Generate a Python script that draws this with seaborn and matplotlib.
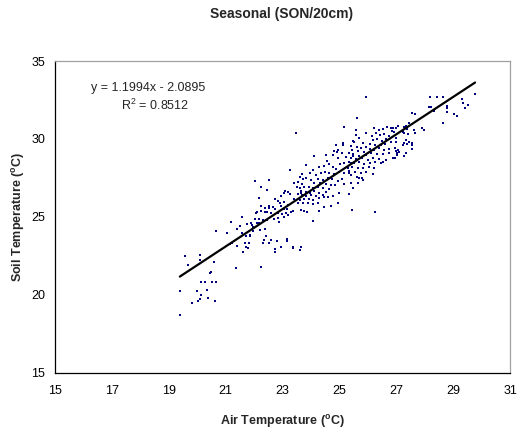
import matplotlib
matplotlib.use("Agg")
import matplotlib.pyplot as plt
import seaborn as sns
import numpy as np
import pandas as pd

# ---- data ----
air_temp = [
    19.39, 19.41, 19.83, 19.99, 20.04, 20.09, 20.13, 20.12, 20.34, 20.38, 20.61, 20.52,
    19.56, 19.67, 20.11, 20.09, 20.60, 20.65, 20.50, 20.44, 20.26, 20.65,
    21.05, 21.20, 21.36, 21.21, 21.14, 21.40, 21.50, 21.57, 21.40, 21.61, 21.68, 21.75,
    21.78, 21.82, 21.85, 21.91, 21.96, 22.02, 22.08, 22.11, 22.16, 22.22, 22.26, 22.32,
    22.25, 22.25, 22.37, 22.43, 22.46, 22.52, 22.26, 22.47, 22.05, 21.57,
    23.25, 23.68, 23.60, 23.42, 23.54, 23.67, 23.52, 23.62, 22.51, 23.10, 23.19, 23.05,
    23.28, 23.56, 23.66, 22.93, 22.74, 22.84, 22.90, 23.07, 23.54, 23.21,
    22.37, 22.54, 22.66, 22.95, 22.75, 23.04, 23.16, 22.11, 22.46, 22.60, 22.84, 22.98,
    23.13, 23.37, 22.19, 22.32, 22.70, 22.88, 23.07, 23.19, 21.88, 21.96, 22.19, 22.39,
    21.84, 21.72, 21.70, 22.34, 22.54, 22.60, 22.81, 23.16, 22.72, 22.72, 22.93, 23.37,
    23.60, 23.66, 22.84, 23.42, 23.30,
    25.12, 25.14, 25.47, 25.35, 25.47, 25.09, 24.91, 24.80, 24.77, 24.12, 23.83, 24.55,
    24.94, 25.23, 24.65, 25.02, 25.18, 25.41, 24.30, 24.47, 24.77, 24.88, 25.29, 24.06,
    23.95, 24.18, 24.36, 24.51, 24.65, 24.82, 25.00, 25.18, 25.35, 23.71, 23.83, 24.00,
    24.24, 24.42, 24.59, 24.74, 24.94, 25.09, 24.12, 24.32, 24.53, 24.71, 24.86, 25.18,
    25.41, 23.74, 23.92, 24.06, 24.24, 24.42, 24.65, 23.66, 23.81, 23.95, 24.12, 24.27,
    24.53, 25.00, 23.69, 23.83, 24.00, 24.18, 24.42, 23.77, 23.92, 24.09, 24.30, 24.77,
    23.62, 23.71, 23.89, 24.06, 24.24, 24.47, 24.59, 25.33, 23.66, 23.74, 23.85, 24.47,
    24.30, 24.06, 25.45, 24.71, 24.94,
    25.61, 25.59, 25.94, 26.23, 26.38, 26.52, 26.66, 26.81, 26.90, 26.85, 26.29, 26.43,
    26.58, 26.73, 26.15, 25.53, 25.70, 25.82, 26.19, 26.34, 26.50, 26.64, 26.08, 26.26,
    26.46, 26.61, 26.81, 26.99, 25.41, 25.61, 25.76, 25.94, 25.45, 25.64, 25.88, 26.08,
    26.23, 26.40, 26.58, 26.75, 26.96, 26.99, 27.08, 25.49, 25.70, 25.94, 26.11, 26.31,
    26.52, 26.73, 27.04, 25.41, 25.59, 25.80, 25.99, 26.17, 26.38, 26.64, 26.87, 25.35,
    25.53, 25.70, 25.88, 26.08, 26.26, 26.46, 25.45, 25.64, 25.84, 26.03, 26.23, 26.54,
    25.35, 25.56, 25.76, 25.94, 25.41, 25.61, 25.80, 25.70, 26.19, 25.82, 25.64, 25.49,
    26.26, 26.99,
    28.19, 28.43, 28.66, 28.16, 28.22, 28.31, 27.57, 27.66, 28.63, 27.92, 27.98, 27.46,
    27.34, 27.26, 27.07, 27.37, 27.22, 27.63, 27.66, 27.40, 27.28, 26.93, 26.99, 27.34,
    27.46, 27.28, 27.37, 27.54, 27.57, 27.22, 27.07, 27.04, 27.54, 27.34, 27.26, 26.95,
    29.30, 29.77, 28.77, 28.80, 29.35, 29.52, 29.42, 28.77, 29.04, 29.15,
    25.94, 23.48, 25.18, 23.36, 23.16, 24.53, 24.94, 24.88, 25.59,
]
soil_temp = [
    20.22, 18.70, 19.49, 20.22, 19.62, 19.73, 20.00, 20.80, 20.31, 19.77, 19.62, 20.80,
    22.49, 21.89, 22.55, 22.25, 22.12, 24.09, 21.48, 21.40, 20.82, 20.82,
    23.94, 24.65, 21.74, 23.34, 23.24, 24.24, 24.43, 24.97, 23.13, 22.76, 23.32, 24.54,
    22.98, 23.30, 23.77, 24.46, 24.11, 24.88, 25.27, 24.59, 26.19, 24.16, 21.76, 23.30,
    25.38, 25.70, 25.33, 23.79, 24.80, 25.55, 26.93, 26.72, 27.30, 23.94,
    28.01, 27.73, 27.54, 27.15, 27.26, 27.09, 26.93, 26.85, 27.36, 26.68, 26.61, 26.51,
    26.47, 26.47, 26.51, 26.34, 26.13, 26.02, 25.87, 25.95, 25.87, 25.78,
    25.59, 25.70, 25.65, 25.70, 25.48, 25.50, 25.48, 25.31, 25.33, 25.27, 25.27, 25.18,
    25.23, 25.39, 24.84, 24.80, 24.88, 24.69, 25.01, 25.12, 24.59, 24.33, 24.59, 24.20,
    23.84, 23.77, 23.05, 23.51, 23.34, 23.51, 23.47, 23.47, 22.96, 22.76, 23.05, 22.98,
    22.87, 23.05, 24.91, 26.16, 25.33,
    29.76, 29.59, 29.89, 29.08, 28.90, 29.12, 29.18, 29.23, 28.97, 28.90, 28.33, 28.60,
    28.76, 28.82, 28.39, 28.39, 28.47, 28.44, 28.22, 28.26, 28.18, 28.05, 28.12, 28.01,
    27.79, 27.69, 27.79, 27.88, 27.83, 27.75, 27.90, 27.83, 27.79, 27.41, 27.47, 27.36,
    27.41, 27.36, 27.47, 27.41, 27.32, 27.41, 27.15, 27.19, 27.11, 27.04, 27.04, 27.11,
    27.15, 26.93, 26.90, 26.83, 26.93, 26.83, 26.77, 26.68, 26.61, 26.55, 26.68, 26.55,
    26.61, 26.51, 26.40, 26.34, 26.40, 26.34, 26.40, 26.13, 26.13, 26.08, 26.19, 26.34,
    26.08, 25.87, 25.87, 25.82, 25.91, 26.25, 26.29, 26.47, 25.44, 25.39, 25.33, 25.65,
    25.39, 24.75, 25.44, 25.70, 25.91,
    31.32, 30.57, 30.36, 30.68, 30.57, 30.64, 30.78, 30.72, 30.72, 30.51, 30.36, 30.25,
    30.30, 30.21, 30.21, 29.82, 30.04, 29.72, 29.93, 30.00, 29.87, 30.00, 29.66, 29.61,
    29.61, 29.66, 29.78, 29.82, 29.57, 29.50, 29.44, 29.50, 29.29, 29.23, 29.18, 29.35,
    29.29, 29.40, 29.29, 29.35, 29.40, 29.23, 29.18, 29.01, 28.92, 28.97, 29.08, 29.01,
    29.01, 29.08, 28.97, 28.76, 28.71, 28.76, 28.65, 28.76, 28.71, 28.65, 28.76, 28.54,
    28.44, 28.50, 28.37, 28.44, 28.54, 28.44, 28.22, 28.15, 28.12, 28.22, 28.12, 28.50,
    27.94, 27.90, 27.79, 27.86, 27.69, 27.58, 27.51, 27.47, 27.73, 27.36, 27.15, 26.87,
    25.33, 30.68,
    32.67, 32.67, 32.71, 32.07, 32.03, 31.81, 31.68, 31.60, 31.00, 30.68, 30.57, 31.00,
    30.83, 30.78, 30.83, 30.62, 30.46, 30.57, 30.40, 30.32, 30.36, 30.46, 30.04, 29.93,
    29.82, 29.76, 29.67, 29.72, 29.61, 29.61, 29.29, 29.08, 29.33, 29.08, 28.90, 28.76,
    32.56, 32.86, 32.13, 32.00, 32.29, 32.18, 31.97, 31.75, 31.58, 31.49,
    32.71, 30.36, 30.75, 23.05, 23.58, 28.97, 29.29, 29.61, 30.25,
]
slope = 1.1994
intercept = -2.0895
r_squared = 0.8512
x_ticks = [15, 17, 19, 21, 23, 25, 27, 29, 31]
y_ticks = [15, 20, 25, 30, 35]

df = pd.DataFrame({"air": air_temp, "soil": soil_temp})

sns.set_style("white")
plt.rcParams["font.family"] = ["Liberation Sans", "DejaVu Sans"]
plt.rcParams["mathtext.fontset"] = "custom"
plt.rcParams["mathtext.rm"] = "Liberation Sans"
plt.rcParams["mathtext.it"] = "Liberation Sans:italic"
plt.rcParams["mathtext.bf"] = "Liberation Sans:bold"

W, H = 532, 433
fig = plt.figure(figsize=(W / 100, H / 100), dpi=100)
fig.patch.set_facecolor("white")
ax = fig.add_axes([55 / W, 1 - 372.7 / H, (510 - 55) / W, (372.7 - 61) / H])

sns.scatterplot(data=df, x="air", y="soil", ax=ax, marker="s", s=3.5,
                color="#000080", linewidth=0, legend=False, zorder=2)

xs = np.array([df["air"].min(), df["air"].max()])
ax.plot(xs, slope * xs + intercept, color="black", linewidth=1.6, zorder=3)

ax.set_xlim(15, 31)
ax.set_ylim(15, 35)
ax.set_xticks(x_ticks)
ax.set_yticks(y_ticks)
ax.tick_params(axis="both", direction="out", length=4, width=0.8, color="black",
               labelsize=9, labelcolor="black", pad=3)
ax.tick_params(axis="x", pad=5)
for side in ["left", "bottom"]:
    ax.spines[side].set_color("black")
    ax.spines[side].set_linewidth(0.9)
for side in ["top", "right"]:
    ax.spines[side].set_color("#a0a0a0")
    ax.spines[side].set_linewidth(0.9)
ax.grid(False)

ax.set_xlabel(r"Air Temperature ($^{\mathbf{o}}$C)", fontsize=9, fontweight="bold")
ax.set_ylabel(r"Soil Temperature ($^{\mathbf{o}}$C)", fontsize=9, fontweight="bold")
ax.xaxis.set_label_coords(0.5, -0.13)
ax.yaxis.set_label_coords(-0.062, 0.5)

fig.text(282 / W, 1 - 14 / H, "Seasonal (SON/20cm)", ha="center", va="center",
         fontsize=10, fontweight="bold")

sign = "-" if intercept < 0 else "+"
fig.text(148 / W, 1 - 88 / H, f"y = {slope:.4f}x {sign} {abs(intercept):.4f}",
         ha="center", va="center", fontsize=9)
fig.text(155 / W, 1 - 105 / H, f"R$^2$ = {r_squared:.4f}",
         ha="center", va="center", fontsize=9)

fig.savefig("out.png", dpi=100, facecolor="white")
